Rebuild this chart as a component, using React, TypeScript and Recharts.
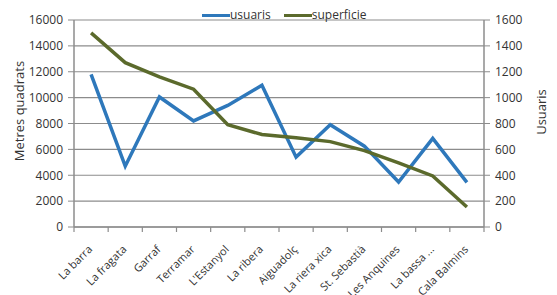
import React from 'react';
import { LineChart, Line, XAxis, YAxis, CartesianGrid } from 'recharts';

const categories = [
  'La barra', 'La fragata', 'Garraf', 'Terramar', "L'Estanyol", 'La ribera',
  'Aiguadolç', 'La riera xica', 'St. Sebastià', 'Les Anquines', 'La bassa ...', 'Cala Balmins',
];
const usuaris = [1180, 470, 1005, 820, 940, 1095, 540, 790, 625, 348, 685, 345];
const superficie = [15000, 12700, 11600, 10650, 7900, 7150, 6900, 6600, 5900, 4950, 3950, 1550];
const leftTicks = [0, 2000, 4000, 6000, 8000, 10000, 12000, 14000, 16000];
const rightTicks = [0, 200, 400, 600, 800, 1000, 1200, 1400, 1600];

const data = categories.map((name, i) => ({
  name,
  usuaris: usuaris[i],
  superficie: superficie[i],
}));

const BLUE = '#2e78bb';
const GREEN = '#5b6a2c';
const GRAY = '#8c8c8c';
const FONT = '"Open Sans", "Liberation Sans", sans-serif';

// plot is 410px wide with 12 categories; points sit in the middle of each slot like Excel
const SLOT = 410 / categories.length;
const HALF_SLOT = SLOT / 2;

const CategoryTick = (props: any) => {
  const { x, y, payload, index } = props;
  const ax = x + 2;
  const ay = y + 18;
  const isLast = index === categories.length - 1;
  return (
    <g>
      {/* marks at slot edges, below the axis */}
      <line x1={x - HALF_SLOT} x2={x - HALF_SLOT} y1={y - 5} y2={y} stroke={GRAY} strokeWidth={1.2} />
      {isLast && (
        <line x1={x + HALF_SLOT} x2={x + HALF_SLOT} y1={y - 5} y2={y} stroke={GRAY} strokeWidth={1.2} />
      )}
      <text
        x={ax}
        y={ay}
        transform={`rotate(-45 ${ax} ${ay})`}
        textAnchor="end"
        fontSize={11}
        fontFamily={FONT}
        fill="#333"
      >
        {payload.value}
      </text>
    </g>
  );
};

const AxisTitle = ({ x, y, text }: { x: number; y: number; text: string }) => (
  <text
    x={x}
    y={y}
    transform={`rotate(-90 ${x} ${y})`}
    textAnchor="middle"
    dominantBaseline="central"
    fontSize={13}
    fontFamily={FONT}
    fill="#333"
  >
    {text}
  </text>
);

const LegendItem = ({ color, label }: { color: string; label: string }) => (
  <span style={{ display: 'inline-flex', alignItems: 'center', marginRight: 13 }}>
    <span style={{ display: 'inline-block', width: 28, height: 3, background: color }} />
    <span>{label}</span>
  </span>
);

export default function App() {
  return (
    <div style={{ position: 'absolute', left: 0, top: 0, width: 557, height: 295, background: '#fff' }}>
      <LineChart
        width={557}
        height={295}
        data={data}
        margin={{ top: 20, right: 0, bottom: 0, left: 0 }}
      >
        <CartesianGrid vertical={false} stroke={GRAY} strokeWidth={1.2} yAxisId="left" />
        <XAxis
          dataKey="name"
          height={68}
          interval={0}
          padding={{ left: HALF_SLOT, right: HALF_SLOT }}
          tickLine={false}
          tickSize={5}
          tickMargin={0}
          axisLine={{ stroke: GRAY, strokeWidth: 1.5 }}
          tick={<CategoryTick />}
        />
        <YAxis
          yAxisId="left"
          orientation="left"
          width={74}
          domain={[0, 16000]}
          ticks={leftTicks}
          interval={0}
          axisLine={{ stroke: GRAY, strokeWidth: 1.5 }}
          tickLine={{ stroke: GRAY }}
          tickSize={6}
          tickMargin={5}
          tick={{ fontSize: 12, fontFamily: FONT, fill: '#333' }}
        />
        <YAxis
          yAxisId="right"
          orientation="right"
          width={73}
          domain={[0, 1600]}
          ticks={rightTicks}
          interval={0}
          axisLine={{ stroke: GRAY, strokeWidth: 1.5 }}
          tickLine={{ stroke: GRAY }}
          tickSize={6}
          tickMargin={5}
          tick={{ fontSize: 12, fontFamily: FONT, fill: '#333' }}
        />
        <Line
          yAxisId="right"
          dataKey="usuaris"
          stroke={BLUE}
          strokeWidth={3.5}
          dot={false}
          isAnimationActive={false}
        />
        <Line
          yAxisId="left"
          dataKey="superficie"
          stroke={GREEN}
          strokeWidth={3.5}
          dot={false}
          isAnimationActive={false}
        />
        <AxisTitle x={19} y={111} text="Metres quadrats" />
        <AxisTitle x={541} y={112} text="Usuaris" />
      </LineChart>
      <div
        style={{
          position: 'absolute',
          left: 202,
          top: 7,
          fontSize: 12,
          fontFamily: FONT,
          color: '#333',
          display: 'flex',
          lineHeight: '16px',
        }}
      >
        <LegendItem color={BLUE} label="usuaris" />
        <LegendItem color={GREEN} label="superficie" />
      </div>
    </div>
  );
}
